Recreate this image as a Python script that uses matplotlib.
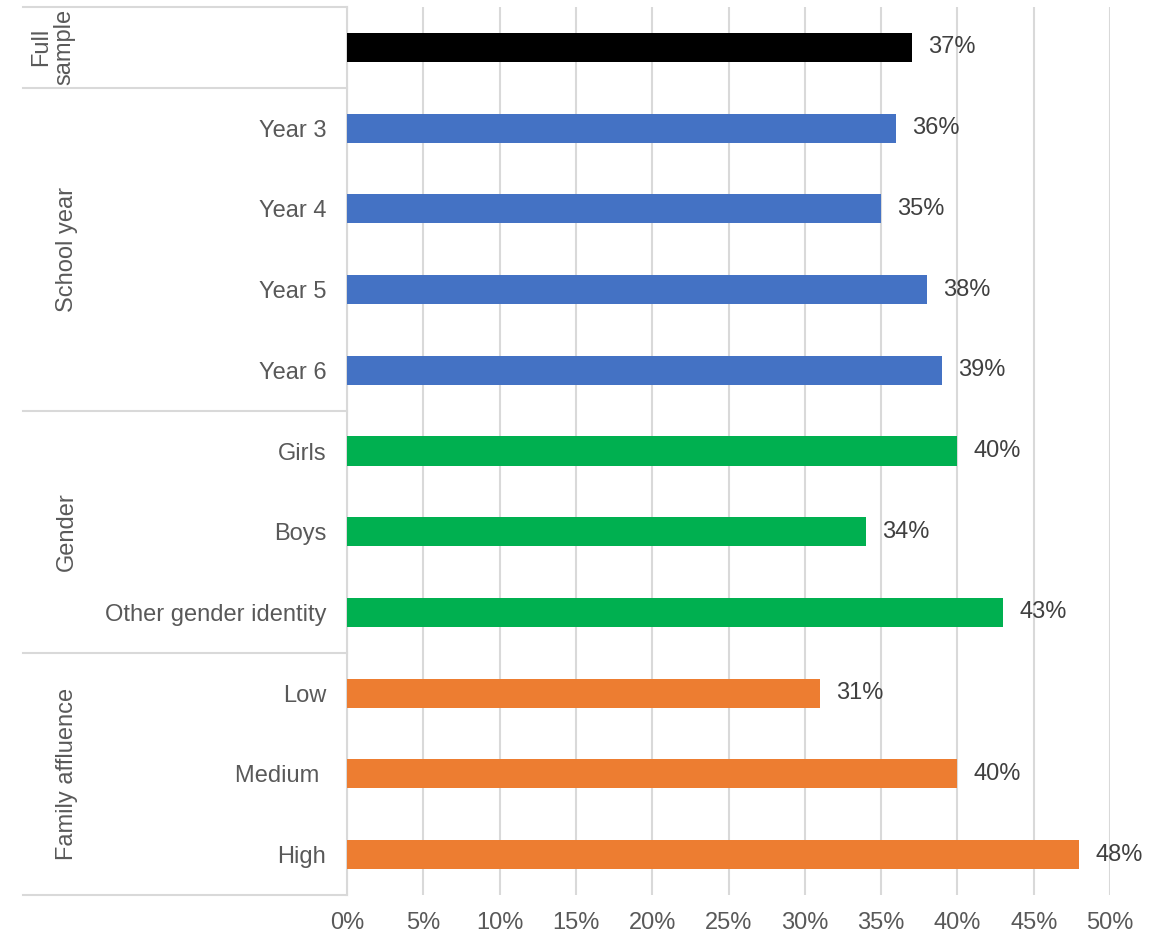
import matplotlib
matplotlib.use('Agg')
import matplotlib.pyplot as plt
import matplotlib.transforms as mtransforms

plt.rcParams['font.family'] = ['Liberation Sans', 'DejaVu Sans']

categories = ['', 'Year 3', 'Year 4', 'Year 5', 'Year 6',
              'Girls', 'Boys', 'Other gender identity',
              'Low', 'Medium ', 'High']
values = [37, 36, 35, 38, 39, 40, 34, 43, 31, 40, 48]
groups = ['Full\nsample', 'School year', 'Gender', 'Family affluence']
group_sizes = [1, 4, 3, 3]
group_colors = ['#000000', '#4472C4', '#00B050', '#ED7D31']

colors = []
for c, n in zip(group_colors, group_sizes):
    colors += [c] * n

W, H = 1161, 934
fig = plt.figure(figsize=(W / 100, H / 100), dpi=100)
ax = fig.add_axes([347 / W, (H - 895) / H, (1110 - 347) / W, 888 / H])

ypos = list(range(len(values)))
ax.barh(ypos, values, height=0.36, color=colors, zorder=3)
ax.set_ylim(len(values) - 0.5, -0.5)
ax.set_xlim(0, 50)

for y, v in zip(ypos, values):
    ax.text(v + 1.05, y, f'{v}%', va='center', ha='left',
            fontsize=17, color='#404040', zorder=4)

ax.set_xticks(range(0, 51, 5))
ax.set_xticklabels([f'{t}%' for t in range(0, 51, 5)])
ax.set_yticks(ypos)
ax.set_yticklabels(categories)
ax.tick_params(axis='both', length=0, labelsize=17, labelcolor='#595959')
ax.tick_params(axis='x', pad=12)
ax.tick_params(axis='y', pad=15)

ax.grid(axis='x', color='#D9D9D9', linewidth=1.5, zorder=0)
for s in ['top', 'right', 'bottom']:
    ax.spines[s].set_visible(False)
ax.spines['left'].set_color('#D9D9D9')
ax.spines['left'].set_linewidth(1.5)

# group separators and group labels to the left of the axis
trans = mtransforms.blended_transform_factory(ax.transAxes, ax.transData)
x0 = (23 - 347) / (1110 - 347)
edges = [-0.5]
for n in group_sizes:
    edges.append(edges[-1] + n)
for e in edges:
    ax.plot([x0, 0], [e, e], color='#D9D9D9', lw=1.5,
            transform=trans, clip_on=False)

xg = (67 - 347) / (1110 - 347)
for i, g in enumerate(groups):
    mid = (edges[i] + edges[i + 1]) / 2
    xx = (53 - 347) / (1110 - 347) if '\n' in g else xg
    ax.text(xx, mid, g, rotation=90, ha='center', va='center',
            multialignment='center', fontsize=17, color='#595959',
            transform=trans, linespacing=1.05)

fig.savefig('out.png', dpi=100)
